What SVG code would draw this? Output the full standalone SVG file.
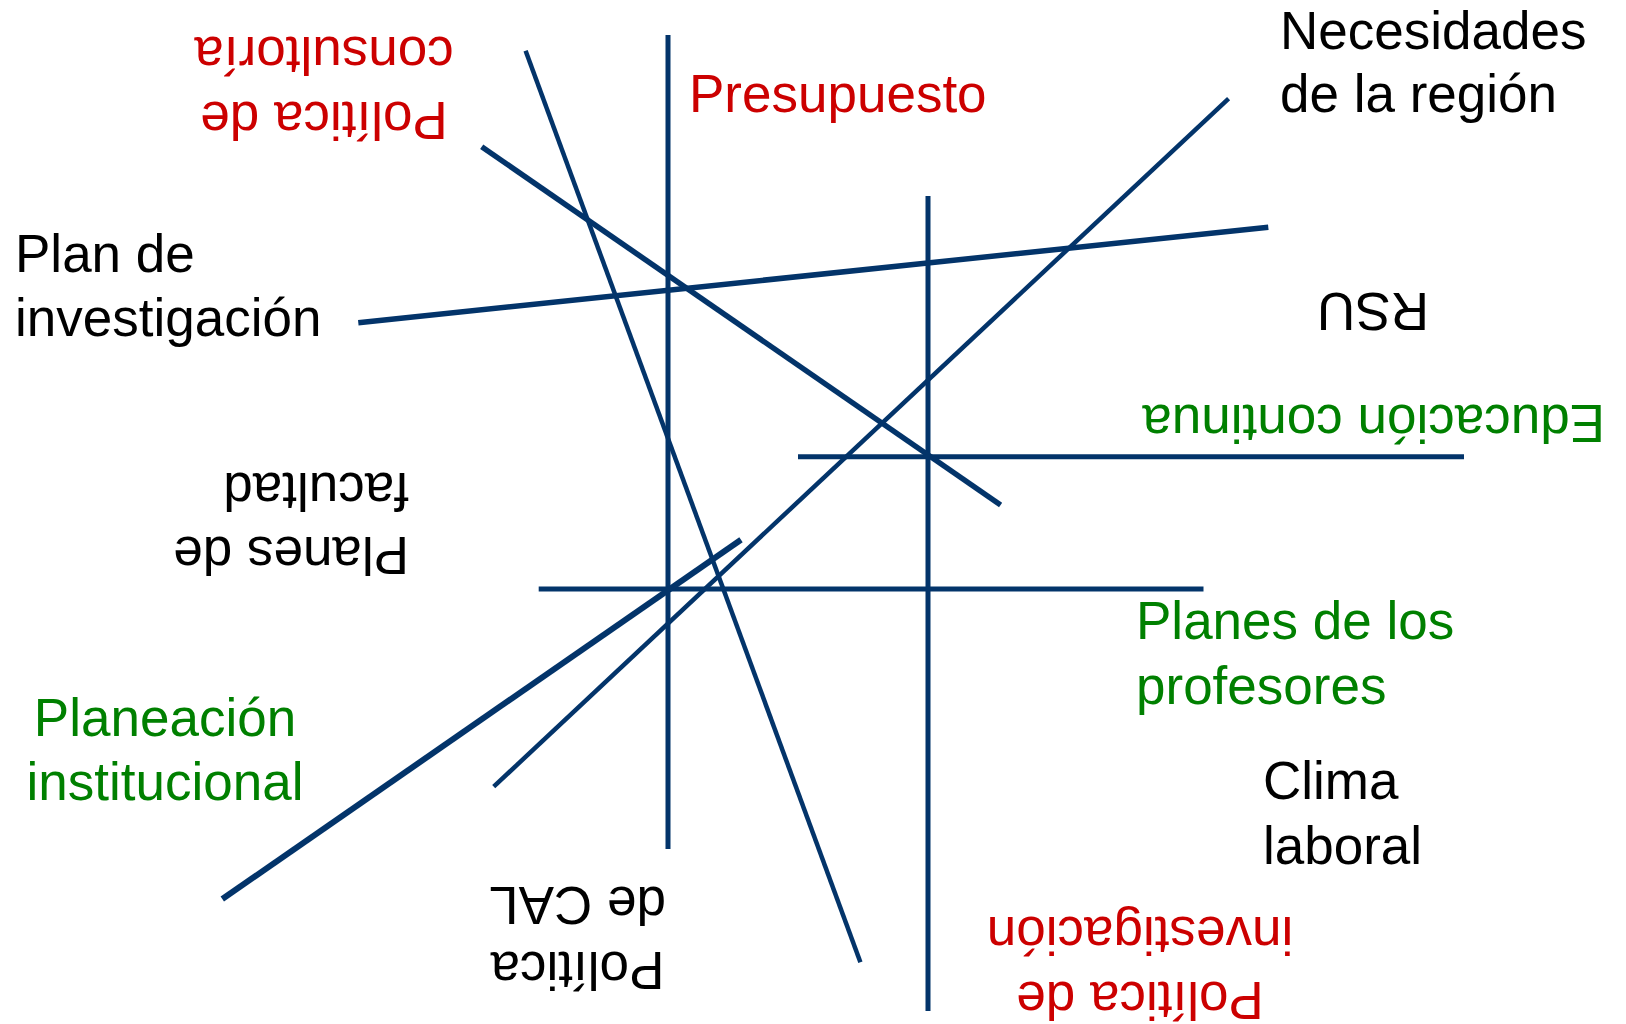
<svg xmlns="http://www.w3.org/2000/svg" width="1626" height="1024" viewBox="0 0 1626 1024">
<style>
text{font-family:"Liberation Sans",Arial,sans-serif;font-size:53px}
.k{fill:#000}
.r{fill:#CC0000}
.g{fill:#008000}
.ln{stroke:#03346A;fill:none;stroke-linecap:butt}
</style>
<rect width="1626" height="1024" fill="#fff"/>
<g id="connectors">
<line class="ln" x1="668" y1="35" x2="668" y2="849" stroke-width="5"/>
<line class="ln" x1="928" y1="196" x2="928" y2="1011" stroke-width="5"/>
<line class="ln" x1="525.6" y1="50.7" x2="860.4" y2="962.3" stroke-width="4.5"/>
<line class="ln" x1="481.7" y1="146.7" x2="1000.6" y2="505" stroke-width="5.5"/>
<line class="ln" x1="358.3" y1="322.7" x2="1268.3" y2="227.3" stroke-width="5.5"/>
<line class="ln" x1="1228.6" y1="98.7" x2="493.7" y2="786.7" stroke-width="4.5"/>
<line class="ln" x1="798" y1="456.7" x2="1464" y2="456.7" stroke-width="5"/>
<line class="ln" x1="538.7" y1="589" x2="1203.5" y2="589" stroke-width="5"/>
<line class="ln" x1="741" y1="539.7" x2="222.3" y2="899" stroke-width="6"/>
</g>
<g id="presupuesto"><text class="r" x="689" y="112">Presupuesto</text></g>
<g id="necesidades"><text class="k" x="1280" y="48.5">Necesidades</text><text class="k" x="1280" y="112">de la región</text></g>
<g id="plan-investigacion"><text class="k" x="15" y="272">Plan de</text><text class="k" x="15" y="336">investigación</text></g>
<g id="politica-consultoria" transform="translate(324,101.7) rotate(180)"><text class="r" text-anchor="middle" x="0" y="0">Política de</text><text class="r" text-anchor="middle" x="0" y="65">consultoría</text></g>
<g id="rsu" transform="translate(1429,293.3) rotate(180)"><text class="k" x="0" y="0">RSU</text></g>
<g id="educacion-continua" transform="translate(1605,405) rotate(180)"><text class="g" x="0" y="0">Educación continua</text></g>
<g id="planes-facultad" transform="translate(409,537.3) rotate(180)"><text class="k" x="0" y="0">Planes de</text><text class="k" x="0" y="64">facultad</text></g>
<g id="planes-profesores"><text class="g" x="1136" y="639">Planes de los</text><text class="g" x="1136" y="704">profesores</text></g>
<g id="planeacion"><text class="g" text-anchor="middle" x="165" y="736">Planeación</text><text class="g" text-anchor="middle" x="165" y="800">institucional</text></g>
<g id="clima"><text class="k" x="1263" y="799">Clima</text><text class="k" x="1263" y="864">laboral</text></g>
<g id="politica-cal" transform="translate(577.5,952.3) rotate(180)"><text class="k" text-anchor="middle" x="0" y="0">Política</text><text class="k" text-anchor="middle" x="0" y="65">de CAL</text></g>
<g id="politica-investigacion" transform="translate(1140,981.5) rotate(180)"><text class="r" text-anchor="middle" x="0" y="0">Política de</text><text class="r" text-anchor="middle" x="0" y="65">investigación</text></g>
</svg>
